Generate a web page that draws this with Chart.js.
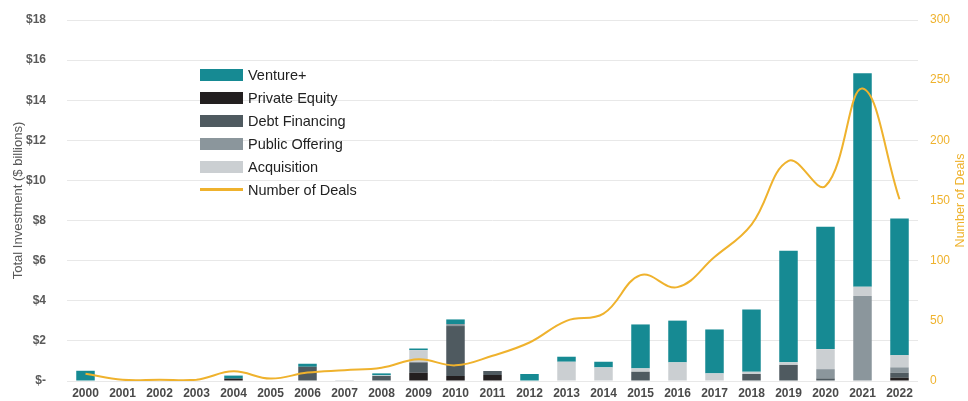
<!DOCTYPE html>
<html>
<head>
<meta charset="utf-8">
<script src="https://cdn.jsdelivr.net/npm/chart.js@4"></script>
<style>
  html, body { margin: 0; padding: 0; background: #fff; overflow: hidden; }
  #wrap { position: relative; width: 968px; height: 401px; }
  #legend { position: absolute; left: 200px; top: 63px; font-family: "Liberation Sans", Arial, sans-serif; font-size: 14.5px; color: #222; }
  #legend .row { display: flex; align-items: center; height: 23px; }
  #legend .sw { width: 43px; height: 12px; margin-right: 5px; }
  #legend .ln { width: 43px; height: 3px; margin: 4px 5px 4px 0; }
</style>
</head>
<body>
<div id="wrap">
  <canvas id="chart" width="968" height="401"></canvas>
  <div id="legend"></div>
</div>
<script>
const years = ['2000','2001','2002','2003','2004','2005','2006','2007','2008','2009','2010','2011',
               '2012','2013','2014','2015','2016','2017','2018','2019','2020','2021','2022'];

// Investment by type, $ billions
const privateEquity  = [0,0,0,0,0.12,0,0,0,0,0.41,0.25,0.30,0,0,0,0,0,0,0,0,0,0,0.16];
const debtFinancing  = [0,0,0,0,0,0,0.71,0,0.25,0.52,2.49,0.20,0,0,0,0.46,0,0,0.35,0.80,0.13,0,0.25];
const publicOffering = [0,0,0,0,0,0,0,0,0,0,0.10,0,0,0,0,0,0,0,0,0,0.46,4.24,0.27];
const acquisition    = [0,0,0,0,0,0,0,0.05,0.03,0.61,0,0,0,0.96,0.68,0.17,0.93,0.38,0.11,0.13,1.00,0.46,0.61];
const venturePlus    = [0.51,0,0,0,0.15,0,0.15,0,0.10,0.08,0.23,0,0.35,0.25,0.28,2.19,2.08,2.19,3.11,5.56,6.10,10.64,6.81];

// Number of deals per year
const numberOfDeals  = [6,1,1,1,8,2,7,9,11,18,13,21,32,50,56,88,78,103,130,183,162,243,151];

const leftTicks = [0,2,4,6,8,10,12,14,16,18];
const rightTicks = [0,50,100,150,200,250,300];

const GOLD = '#efb22d';
const FONT = '"Liberation Sans", Arial, sans-serif';

const barSets = [
  { label: 'Private Equity',  data: privateEquity,  color: '#231f20' },
  { label: 'Debt Financing',  data: debtFinancing,  color: '#4f5a60' },
  { label: 'Public Offering', data: publicOffering, color: '#8b969c' },
  { label: 'Acquisition',     data: acquisition,    color: '#cbcfd2' },
  { label: 'Venture+',        data: venturePlus,    color: '#168a93' },
];

const datasets = [
  {
    type: 'line',
    label: 'Number of Deals',
    data: numberOfDeals,
    yAxisID: 'y1',
    borderColor: GOLD,
    backgroundColor: GOLD,
    borderWidth: 2,
    pointRadius: 0,
    tension: 0.4,
    order: 0,
  },
  ...barSets.map(s => ({
    type: 'bar',
    label: s.label,
    data: s.data,
    yAxisID: 'y',
    backgroundColor: s.color,
    borderWidth: 0,
    barPercentage: 0.5,
    categoryPercentage: 1,
    stack: 'inv',
    order: 1,
  })),
];

// Rotated axis titles, both reading bottom-to-top
const axisTitles = {
  id: 'axisTitles',
  afterDraw(chart) {
    const { ctx, chartArea } = chart;
    const cy = (chartArea.top + chartArea.bottom) / 2;
    const drawTitle = (text, x, size, color) => {
      ctx.save();
      ctx.font = size + 'px ' + FONT;
      ctx.textAlign = 'center';
      ctx.textBaseline = 'middle';
      ctx.translate(x, cy);
      ctx.rotate(-Math.PI / 2);
      ctx.fillStyle = color;
      ctx.fillText(text, 0, 0);
      ctx.restore();
    };
    drawTitle('Total Investment ($ billions)', 18, 13, '#595959');
    drawTitle('Number of Deals', 961, 12.5, GOLD);
  }
};

// Fixed box sizes so the plot area sits at the same place every time
const fixBox = (w, h) => s => {
  if (w != null) s.width = w;
  if (h != null) s.height = h;
  s.paddingTop = 0; s.paddingBottom = 0;
  s.paddingLeft = 0; s.paddingRight = 0;
};

new Chart(document.getElementById('chart'), {
  data: { labels: years, datasets },
  plugins: [axisTitles],
  options: {
    responsive: false,
    animation: false,
    layout: { padding: { top: 20, left: 0, right: 0, bottom: 0 } },
    plugins: { legend: { display: false }, tooltip: { enabled: false } },
    scales: {
      x: {
        stacked: true,
        grid: { display: false, drawTicks: false },
        border: { display: false },
        ticks: { color: '#4a4a4a', font: { family: FONT, size: 12, weight: 'bold' }, padding: 5, maxRotation: 0 },
        afterFit: fixBox(null, 20),
      },
      y: {
        stacked: true,
        position: 'left',
        min: 0, max: 18,
        afterBuildTicks(s) { s.ticks = leftTicks.map(v => ({ value: v })); },
        grid: { color: '#e8e8e8', drawTicks: false },
        border: { display: false },
        ticks: {
          color: '#5a5a5a',
          font: { family: FONT, size: 12, weight: 'bold' },
          padding: 21,
          callback: v => v === 0 ? '$-' : '$' + v,
        },
        afterFit: fixBox(67, null),
      },
      y1: {
        position: 'right',
        min: 0, max: 300,
        afterBuildTicks(s) { s.ticks = rightTicks.map(v => ({ value: v })); },
        grid: { display: false, drawTicks: false },
        border: { display: false },
        ticks: { color: GOLD, font: { family: FONT, size: 12 }, padding: 12 },
        afterFit: fixBox(50, null),
      },
    },
  },
});

// Legend rows: bars first in their listed order, then the deals line
const legendOrder = ['Venture+', 'Private Equity', 'Debt Financing', 'Public Offering', 'Acquisition'];
const legendEl = document.getElementById('legend');
legendOrder.forEach(name => {
  const s = barSets.find(b => b.label === name);
  legendEl.insertAdjacentHTML('beforeend',
    `<div class="row"><div class="sw" style="background:${s.color}"></div><span>${s.label}</span></div>`);
});
legendEl.insertAdjacentHTML('beforeend',
  `<div class="row"><div class="ln" style="background:${GOLD}"></div><span>Number of Deals</span></div>`);
</script>
</body>
</html>
